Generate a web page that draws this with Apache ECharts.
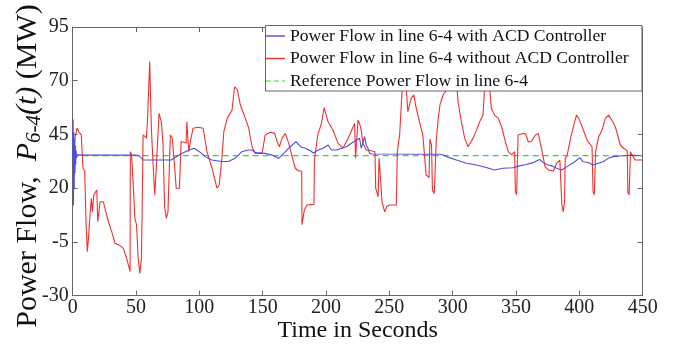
<!DOCTYPE html>
<html>
<head>
<meta charset="utf-8">
<script src="https://cdn.jsdelivr.net/npm/echarts@6/dist/echarts.min.js"></script>
<style>html,body{margin:0;padding:0;background:#fff}#c{width:673px;height:347px}</style>
</head>
<body>
<div id="c"></div>
<script>
// ---- data ----
var xTicks = [0, 50, 100, 150, 200, 250, 300, 350, 400, 450];
var yTicks = [-30, -5, 20, 45, 70, 95];
var seriesNames = [
  'Power Flow in line 6-4 with ACD Controller',
  'Power Flow in line 6-4 without ACD Controller',
  'Reference Power Flow in line 6-4'
];
var blueTime = [0,0.3,0.6,0.9,1.2,1.5,1.8,2.1,2.4,2.7,3.0,3.5,10,50,52.9,55.5,77.8,85.6,92,96,100,104.6,109.8,117.7,122.9,128.2,133.5,138.7,141.6,144.2,152,157.4,162.6,166.6,170.5,176.3,179.8,183.7,188,190,193.8,197.7,201.6,204.3,208.2,212.2,216.1,220.1,224.1,226.5,227.8,230.5,231.8,233.1,234.4,236,291,295.1,302.9,310.8,318.7,326.5,333.1,339.7,347.6,352.8,358,363.4,368.6,371.2,375.4,378.1,382,386,391.2,396.4,400.4,403,407,410.9,414.9,418.8,422.7,426.7,432,437.3,441.2,446.4,450];
var blueValues = [35,52,12,46,20,43,27,40,31,37.5,34,35.5,35.4,35.4,35,33.1,33.1,36,37.8,38.6,37,34.7,33.1,32.4,32.4,33.9,37,37.8,37.8,36.6,36.2,35.4,33.9,36.2,38.6,41.7,39.3,38.6,37.3,36.4,37.8,38.6,40.1,37.8,37.8,38.6,39.3,40.9,42.4,43.2,38.6,44,40,38.6,36.2,35.9,35.8,34.7,33.1,31.6,30.8,29.6,28.5,29.3,29.5,30.4,31,31.9,33.4,32,30.8,30.4,29.3,28.5,30.4,32.3,34.2,32.3,32,30.8,31.6,32.3,33.9,34.7,35,35.2,35.4,35.2,35];
var redTime = [0.5,2,3.5,5,6.8,7.5,8.1,9.5,10.5,11.5,12.5,13.5,14.7,15.6,16.6,19,19.8,21.6,24.2,28.2,30.8,33.4,37.4,40,42.6,45.3,45.5,46.5,47.8,49.1,50.4,51.7,53,54.3,55.6,58.2,59,60.8,62.1,63.5,64.8,66.1,68.2,70,71.3,72.6,73.9,75.2,77.1,78.6,80.4,81.7,84.3,85.6,89.5,90.1,91,91.6,93,95,99,103,106,110,113.9,115.7,118,119.3,121.9,125.8,127.8,130,132.4,136.3,139,141.6,144.2,149.5,152,156,159.5,161.3,163.2,165.3,167.9,170.5,173.2,175.8,178.4,180.8,181,182.9,185,190.5,190.8,193.5,196.4,198.5,201.5,205.5,209.4,213.3,217.3,222.6,223.3,225.2,226.5,227.8,229.1,231.8,235.8,238.6,239.2,241.1,241.9,243.2,244.2,246.3,248,250,255.5,256.3,258.1,260,261.5,263,264.6,267.2,269.3,271.2,273.8,276.4,277.7,279,281.3,282,283.3,284,285.5,287,288.5,290,292.5,295,297,303,304.2,306.9,309.5,312.1,313.4,316,318.7,321.3,323.9,325.2,326,328,329.4,330.5,333.1,336,338.6,341.3,343.9,346.5,348.9,349.5,350.5,351.6,355.5,357.6,359.7,362.4,365,367.6,370.3,372.9,375.5,379.5,382,384.6,386.2,387.3,388.3,388.8,390.4,393,395.6,397.7,399.5,402.2,406.1,410,410.8,411.8,412.8,415.2,417.9,420.5,423.1,425.8,428.4,432.3,434.9,437.8,438.3,439.3,440.3,441.5,444.1,449.4];
var redValues = [35,44,48,46,44.8,36,29.3,28,5,-9.5,-3,6,15.3,9,16.8,19.2,4.4,13.7,13.7,4.4,-0.2,-5.6,-6.7,-8,-12.6,-18.8,37,35.4,21.5,6,2.9,-12.6,-19.6,-12.6,44.8,43.3,50.9,78.9,47.9,30.8,16.8,30.8,54.8,50.9,40.1,11.4,6,9,44.8,43.3,30.8,20,20,41.7,41,50.9,51.7,37,42,47.9,48.4,47.9,37,29.3,20,21.5,35.5,46.3,52.5,56.4,67.2,65.7,58.7,52.5,47.9,39.3,36.2,36.2,44.8,46,45.5,41.7,39.3,43.3,45.5,41,34.7,29.3,28,28,3,9.9,12.2,12.5,33,44.8,50.2,57.5,51,47,41,38.6,43,50.2,34,51.7,50,47,41,37.8,37.4,37,20,16,34,34,13.7,9,11.5,12.2,12.2,37,44.8,64.9,70,69,55.6,61.8,63.4,57.2,50.9,44.8,35.5,26.2,25,43,40,19,17.5,42,52,59,63.5,65.5,70,70,60.3,50.9,43.2,39.3,39,43.2,46.9,50.9,54,67,70,70,65,57.2,54,52.5,48.6,42.4,37,35.5,37,18.4,17,44.8,45.5,45.3,41.5,42,44.5,45.5,37.8,30,28.5,28,31.6,33,12.2,9,14,33.9,35.4,43.2,49.4,54,52.5,48.6,42.4,39.3,18.4,17,37,44,47,52.5,54,51.5,48.6,40.1,38.6,37.5,18,17,37,35.5,33.1,33.1];
var refTime = [0, 450];
var refValues = [35.2, 35.2];

function zip(a, b) { return a.map(function (t, i) { return [t, b[i]]; }); }

var FONT = 'Liberation Serif';
var BLUE = '#4d4de0', RED = '#f23030', GREEN = '#3fcf3f';
var chart = echarts.init(document.getElementById('c'), null, { renderer: 'canvas' });
function axisCommon() {
  return {
    axisLine: { show: true, onZero: false, lineStyle: { color: '#666', width: 1 } },
    axisTick: { show: true, inside: true, length: 5, lineStyle: { color: '#666' } },
    splitLine: { show: false }
  };
}
chart.setOption({
  animation: false,
  backgroundColor: '#fff',
  grid: { left: 72.7, right: 30.3, top: 27, bottom: 51.3, containLabel: false },
  xAxis: [
    Object.assign({ type: 'value', position: 'bottom', min: xTicks[0], max: xTicks[xTicks.length - 1], interval: xTicks[1] - xTicks[0],
      axisLabel: { show: true, margin: 2, fontFamily: FONT, fontSize: 20, color: '#222' } }, axisCommon()),
    Object.assign({ type: 'value', position: 'top', min: xTicks[0], max: xTicks[xTicks.length - 1], interval: xTicks[1] - xTicks[0],
      axisLabel: { show: false } }, axisCommon())
  ],
  yAxis: [
    Object.assign({ type: 'value', position: 'left', min: yTicks[0], max: yTicks[yTicks.length - 1], interval: yTicks[1] - yTicks[0],
      axisLabel: { show: true, margin: 4, fontFamily: FONT, fontSize: 20, color: '#222' } }, axisCommon()),
    Object.assign({ type: 'value', position: 'right', min: yTicks[0], max: yTicks[yTicks.length - 1], interval: yTicks[1] - yTicks[0],
      axisLabel: { show: false } }, axisCommon())
  ],
  legend: {
    orient: 'vertical', left: 266, top: 27, padding: 0, z: 60,
    itemWidth: 19, itemHeight: 1.4, itemGap: 4.5,
    textStyle: { fontFamily: FONT, fontSize: 17.6, color: '#111', lineHeight: 18 },
    data: [
      { name: seriesNames[0], icon: 'rect', itemStyle: { color: BLUE } },
      { name: seriesNames[1], icon: 'rect', itemStyle: { color: RED } },
      { name: seriesNames[2], icon: 'path://M0,0h5v1h-5z M8,0h5v1h-5z M16,0h3v1h-3z', itemStyle: { color: GREEN } }
    ]
  },
  graphic: [
    { type: 'rect', z: 50, shape: { x: 265.5, y: 25.5, width: 376.5, height: 65.5 },
      style: { fill: '#fff', stroke: '#666', lineWidth: 1 } },
    { type: 'text', z: 50, x: 357.7, y: 331, style: { text: 'Time in Seconds', font: '24px "Liberation Serif"', fill: '#111', align: 'center', verticalAlign: 'middle' } },
    { type: 'text', z: 50, x: 28, y: 166, rotation: Math.PI / 2,
      style: {
        text: '{n|Power Flow,  }{i|P}{s|6-4}{i|(t)}{n| (MW)}',
        align: 'center', verticalAlign: 'middle', fill: '#111',
        rich: {
          n: { fontFamily: FONT, fontSize: 30, lineHeight: 34, fill: '#111' },
          i: { fontFamily: FONT, fontSize: 30, fontStyle: 'italic', lineHeight: 34, fill: '#111' },
          s: { fontFamily: FONT, fontSize: 21, fontStyle: 'italic', lineHeight: 24, verticalAlign: 'bottom', fill: '#111' }
        }
      } }
  ],
  series: [
    { name: seriesNames[0], type: 'line', data: zip(blueTime, blueValues), showSymbol: false, symbol: 'none',
      lineStyle: { color: BLUE, width: 1.1 }, itemStyle: { color: BLUE }, z: 4 },
    { name: seriesNames[1], type: 'line', data: zip(redTime, redValues), showSymbol: false, symbol: 'none',
      lineStyle: { color: RED, width: 1.1 }, itemStyle: { color: RED }, z: 3 },
    { name: seriesNames[2], type: 'line', data: zip(refTime, refValues), showSymbol: false, symbol: 'none',
      lineStyle: { color: GREEN, width: 1.3, type: [6, 4] }, itemStyle: { color: GREEN }, z: 2 }
  ]
});
</script>
</body>
</html>
